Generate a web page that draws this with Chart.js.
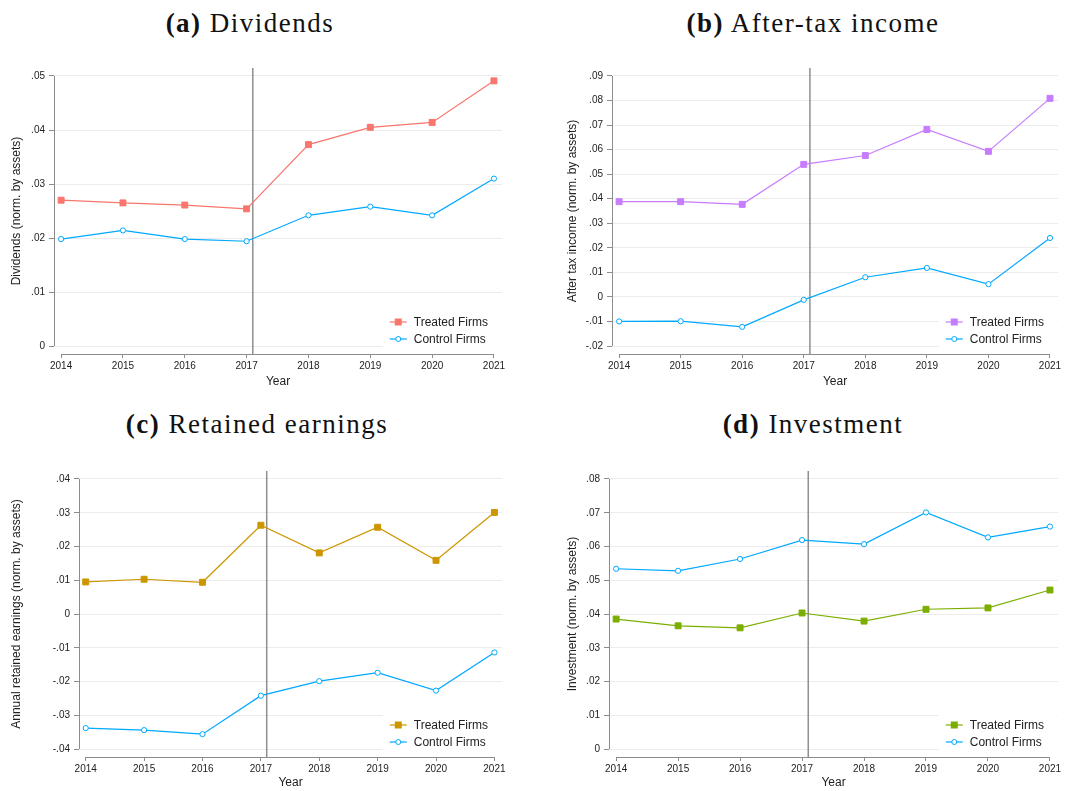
<!DOCTYPE html>
<html>
<head>
<meta charset="utf-8">
<script src="https://cdn.jsdelivr.net/npm/chart.js@4.4.1/dist/chart.umd.min.js"></script>
<style>
body{margin:0;background:#fff;width:1069px;height:791px;position:relative;overflow:hidden}
.ttl{position:absolute;width:400px;text-align:center;font-family:"Liberation Serif",serif;font-size:27px;line-height:26px;letter-spacing:1.5px;color:#111;white-space:nowrap}
canvas{position:absolute}
</style>
</head>
<body>
<div class="ttl" style="left:50px;top:10px"><b>(a)</b> Dividends</div>
<div class="ttl" style="left:613px;top:10px"><b>(b)</b> After-tax income</div>
<div class="ttl" style="left:57px;top:411px"><b>(c)</b> Retained earnings</div>
<div class="ttl" style="left:613px;top:411px"><b>(d)</b> Investment</div>

<canvas id="cA" width="530" height="356" style="left:0;top:44px"></canvas>
<canvas id="cB" width="513" height="356" style="left:556px;top:44px"></canvas>
<canvas id="cC" width="530" height="344" style="left:0;top:447px"></canvas>
<canvas id="cD" width="513" height="344" style="left:556px;top:447px"></canvas>

<script>
const years = [2014, 2015, 2016, 2017, 2018, 2019, 2020, 2021]
const eventYear = 2017.1
const seriesNames = ['Treated Firms', 'Control Firms']

const divTreated = [0.0270, 0.0265, 0.0261, 0.0254, 0.0373, 0.0405, 0.0414, 0.0491]
const divControl = [0.0198, 0.0214, 0.0198, 0.0194, 0.0242, 0.0258, 0.0242, 0.0310]
const incTreated = [0.0388, 0.0388, 0.0377, 0.0540, 0.0576, 0.0682, 0.0593, 0.0809]
const incControl = [-0.0100, -0.0099, -0.0122, -0.0012, 0.0080, 0.0118, 0.0052, 0.0240]
const retTreated = [0.0095, 0.0103, 0.0094, 0.0263, 0.0181, 0.0257, 0.0159, 0.0301]
const retControl = [-0.0338, -0.0344, -0.0356, -0.0242, -0.0199, -0.0174, -0.0227, -0.0114]
const invTreated = [0.0385, 0.0365, 0.0359, 0.0403, 0.0379, 0.0414, 0.0418, 0.0471]
const invControl = [0.0534, 0.0528, 0.0563, 0.0619, 0.0607, 0.0701, 0.0627, 0.0659]

const divTicks = [0, 0.01, 0.02, 0.03, 0.04, 0.05]
const incTicks = [-0.02, -0.01, 0, 0.01, 0.02, 0.03, 0.04, 0.05, 0.06, 0.07, 0.08, 0.09]
const retTicks = [-0.04, -0.03, -0.02, -0.01, 0, 0.01, 0.02, 0.03, 0.04]
const invTicks = [0, 0.01, 0.02, 0.03, 0.04, 0.05, 0.06, 0.07, 0.08]

const controlColor = '#00A9FF'
const axisGray = '#8c8c8c'

Chart.defaults.font.family = '"Liberation Sans", Arial, sans-serif'
Chart.defaults.color = '#333'

function fmtY(v){
    if (Math.abs(v) < 1e-9) return '0'
    return v.toFixed(2).replace('0.', '.')
}

// stata style axes, event line and legend inside the plot
const stataBits = {
    id: 'stataBits',
    beforeDatasetsDraw(chart){
        const {ctx, chartArea: a, scales: {x, y}} = chart
        const yt = chart.options.plugins.stataBits.yTicks
        ctx.save()
        ctx.strokeStyle = axisGray
        ctx.lineWidth = 1
        ctx.beginPath()
        ctx.moveTo(a.left + 0.5, y.getPixelForValue(yt[0]))
        ctx.lineTo(a.left + 0.5, y.getPixelForValue(yt[yt.length - 1]))
        ctx.moveTo(x.getPixelForValue(years[0]), a.bottom + 0.5)
        ctx.lineTo(x.getPixelForValue(years[years.length - 1]), a.bottom + 0.5)
        ctx.stroke()
        const ex = x.getPixelForValue(eventYear)
        ctx.strokeStyle = '#8f8f8f'
        ctx.lineWidth = 1.5
        ctx.beginPath()
        ctx.moveTo(ex, a.top)
        ctx.lineTo(ex, a.bottom)
        ctx.stroke()
        ctx.restore()
    },
    afterDatasetsDraw(chart){
        const {ctx, chartArea: a} = chart
        const ds = chart.data.datasets
        ctx.save()
        ctx.font = '12px "Liberation Sans", Arial, sans-serif'
        const tw = Math.max(...ds.map(d => ctx.measureText(d.label).width))
        const textX = a.right - 14 - tw
        const x0 = textX - 24
        const rows = [a.bottom - 32, a.bottom - 15]
        ctx.fillStyle = '#fff'
        ctx.fillRect(x0 - 7, rows[0] - 11, a.right - x0 + 6, rows[1] - rows[0] + 22)
        ds.forEach((d, i) => {
            const ry = rows[i]
            ctx.strokeStyle = d.borderColor
            ctx.lineWidth = d.borderWidth
            ctx.beginPath()
            ctx.moveTo(x0, ry)
            ctx.lineTo(x0 + 17, ry)
            ctx.stroke()
            const cx = x0 + 8.5
            if (d.pointStyle === 'rect') {
                ctx.fillStyle = d.borderColor
                ctx.fillRect(cx - 3.5, ry - 3.5, 7, 7)
            } else {
                ctx.fillStyle = '#fff'
                ctx.lineWidth = 1
                ctx.beginPath()
                ctx.arc(cx, ry, 2.5, 0, Math.PI * 2)
                ctx.fill()
                ctx.stroke()
            }
            ctx.fillStyle = '#222'
            ctx.textBaseline = 'middle'
            ctx.fillText(d.label, textX, ry + 0.5)
        })
        ctx.restore()
    }
}

function makePanel(id, box, area, yTicks, yTitle, treated, control, treatedColor){
    // box = canvas rect on page, area = wanted plot area on page
    const pad = (yTicks[yTicks.length - 1] - yTicks[0]) * 8 / 270
    new Chart(document.getElementById(id), {
        type: 'line',
        data: {
            datasets: [{
                label: seriesNames[0],
                data: years.map((yr, i) => ({x: yr, y: treated[i]})),
                borderColor: treatedColor,
                backgroundColor: treatedColor,
                pointBackgroundColor: treatedColor,
                borderWidth: 1.2,
                pointStyle: 'rect',
                pointRadius: 4.2,
                pointBorderWidth: 1,
                tension: 0
            }, {
                label: seriesNames[1],
                data: years.map((yr, i) => ({x: yr, y: control[i]})),
                borderColor: controlColor,
                backgroundColor: controlColor,
                pointBackgroundColor: '#fff',
                borderWidth: 1.2,
                pointStyle: 'circle',
                pointRadius: 2.6,
                pointBorderWidth: 1,
                tension: 0
            }]
        },
        options: {
            responsive: false,
            animation: false,
            devicePixelRatio: 1,
            layout: {padding: {left: 0, top: area.top - box.top, right: box.left + box.width - area.right, bottom: 0}},
            plugins: {
                legend: {display: false},
                tooltip: {enabled: false},
                stataBits: {yTicks: yTicks}
            },
            scales: {
                x: {
                    type: 'linear',
                    min: years[0] - 0.115,
                    max: years[years.length - 1] + 0.13,
                    afterBuildTicks: s => { s.ticks = years.map(v => ({value: v})) },
                    afterFit: s => { s.height = box.top + box.height - area.bottom },
                    border: {display: false},
                    grid: {drawOnChartArea: false, drawTicks: true, tickLength: 4, tickColor: axisGray},
                    ticks: {font: {size: 10}, color: '#222', padding: 2, maxRotation: 0, callback: v => String(v)},
                    title: {display: true, text: 'Year', font: {size: 12}, color: '#222', padding: {top: 0, bottom: box.height > 350 ? 11 : 1}}
                },
                y: {
                    type: 'linear',
                    min: yTicks[0] - pad,
                    max: yTicks[yTicks.length - 1] + pad,
                    afterBuildTicks: s => { s.ticks = yTicks.map(v => ({value: v})) },
                    afterFit: s => { s.width = area.left - box.left },
                    border: {display: false},
                    grid: {color: '#ececec', lineWidth: 1, drawTicks: true, tickLength: 5, tickColor: axisGray},
                    ticks: {font: {size: 10}, color: '#222', padding: 4, callback: v => fmtY(v)},
                    title: {display: true, text: yTitle, font: {size: 12}, color: '#222', padding: {top: 9, bottom: 0}}
                }
            }
        },
        plugins: [stataBits]
    })
}

makePanel('cA', {left: 0, top: 44, width: 530, height: 356}, {left: 54, top: 68, right: 502, bottom: 354},
    divTicks, 'Dividends (norm. by assets)', divTreated, divControl, '#F8766D')
makePanel('cB', {left: 556, top: 44, width: 513, height: 356}, {left: 612, top: 68, right: 1058, bottom: 354},
    incTicks, 'After tax income (norm. by assets)', incTreated, incControl, '#C77CFF')
makePanel('cC', {left: 0, top: 447, width: 530, height: 344}, {left: 79, top: 471, right: 502, bottom: 757},
    retTicks, 'Annual retained earnings (norm. by assets)', retTreated, retControl, '#CD9600')
makePanel('cD', {left: 556, top: 447, width: 513, height: 344}, {left: 609, top: 471, right: 1058, bottom: 757},
    invTicks, 'Investment (norm. by assets)', invTreated, invControl, '#7CAE00')
</script>
</body>
</html>
